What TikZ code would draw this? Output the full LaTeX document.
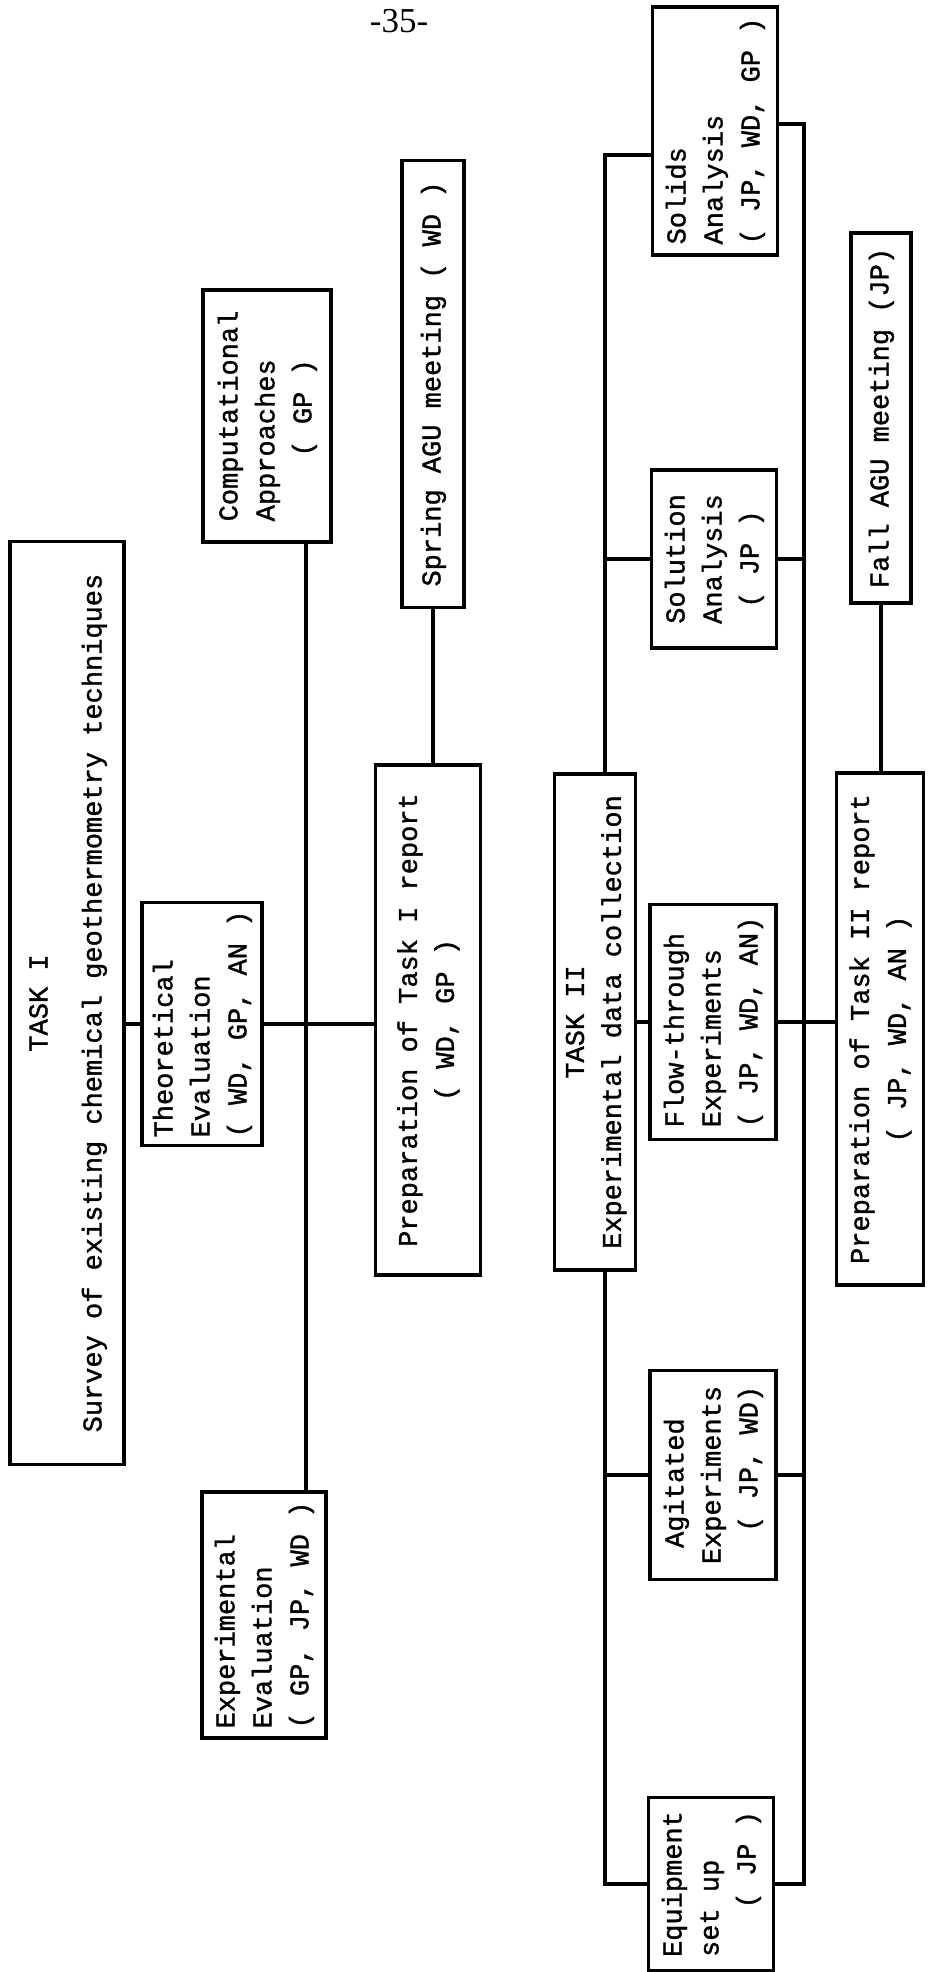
\documentclass[tikz,border=0pt]{standalone}
\usepackage{fontspec}
\setmainfont{Liberation Mono}[FakeBold=1.2]
\newfontfamily\pagefont{Liberation Serif}
\usepackage{graphicx}
\usepackage{tikz}

\newcommand{\uptext}[2][l]{\rotatebox{90}{\begin{tabular}{@{}#1@{}}#2\end{tabular}}}

\begin{document}
\begin{tikzpicture}[
        x=1pt, y=-1pt,
        box/.style={rectangle, draw, line width=3.5pt, inner sep=0pt,
                    font=\fontsize{27}{37}\selectfont},
        conn/.style={line width=3.2pt}
      ]
      \path[use as bounding box, fill=white] (0,0) rectangle (927,1972);

      \node[font=\pagefont\fontsize{35}{35}\selectfont] (pagenum) at (399,21) {-35-};

      % task I
      \node[box, minimum width=114, minimum height=923] (task1) at (67,1003)
        {\uptext[c]{TASK I\\[17pt]Survey of existing chemical geothermometry techniques}};
      \node[box, minimum width=128, minimum height=252] (comp) at (267,416)
        {\uptext{Computational\\Approaches\\\phantom{0000}( GP )}};
      \node[box, minimum width=120, minimum height=243] (theo) at (202,1024)
        {\uptext{Theoretical\\Evaluation\\( WD, GP, AN )}};
      \node[box, minimum width=124, minimum height=246] (expeval) at (264,1615)
        {\uptext{Experimental\\Evaluation\\( GP, JP, WD )}};
      \node[box, minimum width=105, minimum height=510] (prep1) at (428,1020)
        {\uptext[c]{Preparation of Task I report\\( WD, GP )}};
      \node[box, minimum width=62, minimum height=447] (spring) at (433,384)
        {\uptext{Spring AGU meeting ( WD )}};

      % task II
      \node[box, minimum width=81, minimum height=496] (task2) at (595,1022)
        {\uptext[c]{TASK II\\Experimental data collection}};
      \node[box, minimum width=125, minimum height=248] (solids) at (715,131)
        {\uptext{Solids\\Analysis\\( JP, WD, GP )}};
      \node[box, minimum width=125, minimum height=178] (soln) at (714,559)
        {\uptext{Solution\\Analysis\\\phantom{0}( JP )}};
      \node[box, minimum width=126, minimum height=235] (flow) at (713,1022)
        {\uptext{Flow-through\\Experiments\\( JP, WD, AN)}};
      \node[box, minimum width=126, minimum height=209] (agit) at (713,1475)
        {\uptext{\phantom{0}Agitated\\Experiments\\\phantom{00}( JP, WD)}};
      \node[box, minimum width=125, minimum height=173] (equip) at (711,1884)
        {\uptext{Equipment\\set up\\\phantom{000}( JP )}};
      \node[box, minimum width=60, minimum height=370] (fall) at (881,418)
        {\uptext{Fall AGU meeting (JP)}};
      \node[box, minimum width=87, minimum height=512] (prep2) at (880,1029)
        {\uptext[c]{Preparation of Task II report\\( JP, WD, AN )}};

      \coordinate (ebus) at (306,0);
      \coordinate (lbus) at (605,0);
      \coordinate (rbus) at (804,0);

      \draw[conn] (ebus |- comp.south) -- (ebus |- expeval.north);
      \draw[conn] (task1.east |- theo.west) -- (theo.west);
      \draw[conn] (theo.east) -- (prep1.west |- theo.east);
      \draw[conn] (spring.south) -- (spring.south |- prep1.north);

      \draw[conn] ([yshift=-24]solids.west) -| (lbus |- task2.north);
      \draw[conn] (lbus |- task2.south) |- (equip.west);
      \draw[conn] ([yshift=7]solids.east) -| (rbus |- equip.east) -- (equip.east);
      \draw[conn] (lbus |- soln.west) -- (soln.west);
      \draw[conn] (soln.east) -- (rbus |- soln.east);
      \draw[conn] (task2.east) -- (flow.west);
      \draw[conn] (flow.east) -- (prep2.west |- flow.east);
      \draw[conn] (lbus |- agit.west) -- (agit.west);
      \draw[conn] (agit.east) -- (rbus |- agit.east);
      \draw[conn] (fall.south) -- (fall.south |- prep2.north);
    \end{tikzpicture}
\end{document}
